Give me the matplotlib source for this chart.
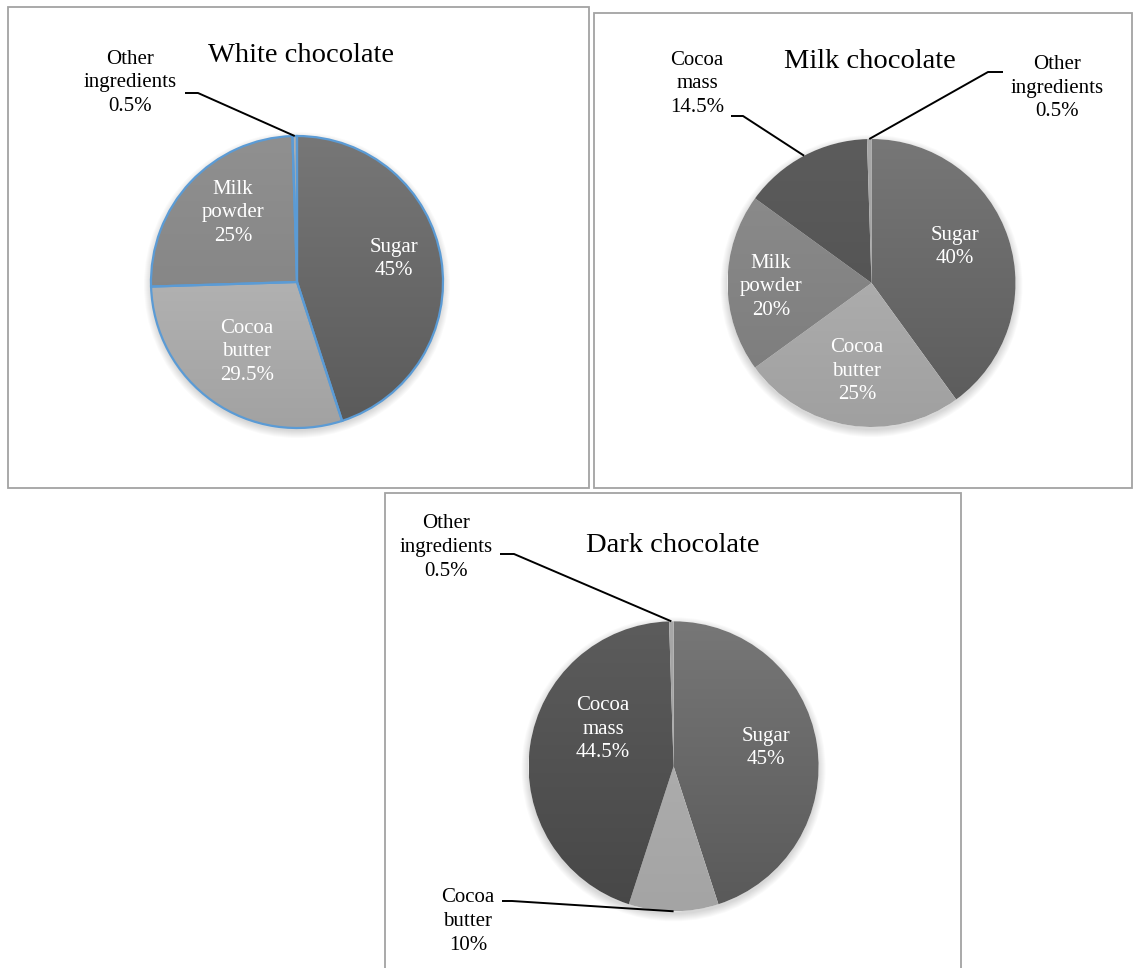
import numpy as np
import matplotlib
matplotlib.use("Agg")
import matplotlib.pyplot as plt
from matplotlib.patches import Rectangle, Circle
from matplotlib.colors import to_rgb

# ---------------- data ----------------
white_labels = ["Sugar", "Cocoa butter", "Milk powder", "Other ingredients"]
white_values = [45, 29.5, 25, 0.5]

milk_labels = ["Sugar", "Cocoa butter", "Milk powder", "Cocoa mass", "Other ingredients"]
milk_values = [40, 25, 20, 14.5, 0.5]

dark_labels = ["Sugar", "Cocoa butter", "Cocoa mass", "Other ingredients"]
dark_values = [45, 10, 44.5, 0.5]

titles = ["White chocolate", "Milk chocolate", "Dark chocolate"]

# ---------------- styles ----------------
W, H = 1137, 968
FONT = "Liberation Serif"

def Y(y):
    return H - y

white_colors = [("#777777", "#5a5a5a"), ("#c0c0c0", "#a2a2a2"),
                ("#909090", "#7e7e7e"), ("#b0b0b0", "#a0a0a0")]
milk_colors = [("#777777", "#5a5a5a"), ("#b8b8b8", "#a0a0a0"),
               ("#8e8e8e", "#7a7a7a"), ("#5c5c5c", "#4e4e4e"), ("#a8a8a8", "#999999")]
dark_colors = [("#777777", "#595959"), ("#b4b4b4", "#a4a4a4"),
               ("#5c5c5c", "#474747"), ("#a8a8a8", "#999999")]

fig = plt.figure(figsize=(W / 100, H / 100), dpi=100)
ax = fig.add_axes([0, 0, 1, 1])

# panel borders (image coords x0, y0, x1, y1)
panels = [(8, 7, 589, 488), (594, 13, 1132, 488), (385, 493, 961, 975)]
for x0, y0, x1, y1 in panels:
    ax.add_patch(Rectangle((x0, Y(y1)), x1 - x0, y1 - y0, fill=False,
                           ec="#a3a3a3", lw=1.3, zorder=1))


def draw_pie(values, colors, cx, cy, r, edge=None):
    # soft shadow
    for k in range(8):
        ax.add_patch(Circle((cx, Y(cy) - 3), r + 7 - k, color="black",
                            alpha=0.018, lw=0, zorder=2))
    ax.add_patch(Circle((cx, Y(cy)), r, color="white", lw=0, zorder=2.1))
    wp = dict(lw=1.6 if edge else 0, edgecolor=edge if edge else "none",
              facecolor="none")
    wedges, _ = ax.pie(values, startangle=90, counterclock=False,
                       center=(cx, Y(cy)), radius=r, frame=True,
                       wedgeprops=wp)
    for w, (ctop, cbot) in zip(wedges, colors):
        w.set_zorder(4)
        w.set_facecolor("none")
        t = np.linspace(0, 1, 256)[:, None, None]
        grad = (1 - t) * np.array(to_rgb(ctop))[None, None, :] + \
            t * np.array(to_rgb(cbot))[None, None, :]
        grad = np.repeat(grad, 2, axis=1)
        im = ax.imshow(grad, extent=(cx - r, cx + r, Y(cy) - r, Y(cy) + r),
                       origin="upper", aspect="auto", zorder=3,
                       interpolation="bilinear")
        im.set_clip_path(w)
    return wedges


def edge_point(w, cx, cy, r):
    a = np.deg2rad((w.theta1 + w.theta2) / 2)
    return cx + r * np.cos(a), Y(cy) + r * np.sin(a)


def label_text(name, v):
    return name.replace(" ", "\n") + "\n" + f"{v:g}%"


txt_kw = dict(fontfamily=FONT, fontsize=15, ha="center", va="center",
              linespacing=1.33, zorder=6)
LEAD = dict(color="black", lw=1.4, zorder=6, solid_capstyle="butt")

# ---------- White chocolate ----------
cx, cy, r = 297, 282, 146
wd = draw_pie(white_values, white_colors, cx, cy, r, edge="#5b9bd5")
ax.text(301, Y(62), titles[0], fontfamily=FONT, fontsize=20.5, ha="center",
        va="baseline", zorder=6)
inside_pos = {"Sugar": (394, 259), "Cocoa butter": (247, 352), "Milk powder": (233, 213)}
for name, v in zip(white_labels, white_values):
    if name in inside_pos:
        x, y = inside_pos[name]
        ax.text(x, Y(y), label_text(name, v), color="white", **txt_kw)
ax.text(130, Y(83), label_text(white_labels[3], white_values[3]), color="black", **txt_kw)
ex, ey = edge_point(wd[3], cx, cy, r)
ax.plot([185, 198, ex], [Y(93), Y(93), ey], **LEAD)

# ---------- Milk chocolate ----------
cx, cy, r = 871.5, 283, 144
wd = draw_pie(milk_values, milk_colors, cx, cy, r)
ax.text(870, Y(68), titles[1], fontfamily=FONT, fontsize=20.5, ha="center",
        va="baseline", zorder=6)
inside_pos = {"Sugar": (954.5, 247), "Cocoa butter": (857, 371), "Milk powder": (771, 287)}
for name, v in zip(milk_labels, milk_values):
    if name in inside_pos:
        x, y = inside_pos[name]
        ax.text(x, Y(y), label_text(name, v), color="white", **txt_kw)
ax.text(697, Y(84), label_text(milk_labels[3], milk_values[3]), color="black", **txt_kw)
ex, ey = edge_point(wd[3], cx, cy, r)
ax.plot([731, 743, ex], [Y(116), Y(116), ey], **LEAD)
ax.text(1057, Y(88), label_text(milk_labels[4], milk_values[4]), color="black", **txt_kw)
ex, ey = edge_point(wd[4], cx, cy, r)
ax.plot([1003, 988, ex], [Y(72), Y(72), ey], **LEAD)

# ---------- Dark chocolate ----------
cx, cy, r = 673.6, 766.3, 145
wd = draw_pie(dark_values, dark_colors, cx, cy, r)
ax.text(673, Y(551.7), titles[2], fontfamily=FONT, fontsize=20.5, ha="center",
        va="baseline", zorder=6)
inside_pos = {"Sugar": (766, 748), "Cocoa mass": (603, 729)}
for name, v in zip(dark_labels, dark_values):
    if name in inside_pos:
        x, y = inside_pos[name]
        ax.text(x, Y(y), label_text(name, v), color="white", **txt_kw)
ax.text(446, Y(547.5), label_text(dark_labels[3], dark_values[3]), color="black", **txt_kw)
ex, ey = edge_point(wd[3], cx, cy, r)
ax.plot([500, 514, ex], [Y(554), Y(554), ey], **LEAD)
ax.text(468, Y(921.5), label_text(dark_labels[1], dark_values[1]), color="black", **txt_kw)
ex, ey = edge_point(wd[1], cx, cy, r)
ax.plot([502, 512, ex], [Y(901), Y(901), ey], **LEAD)

ax.set_xlim(0, W)
ax.set_ylim(0, H)
ax.set_aspect("auto")
ax.axis("off")
fig.savefig("out.png", dpi=100, facecolor="white")
